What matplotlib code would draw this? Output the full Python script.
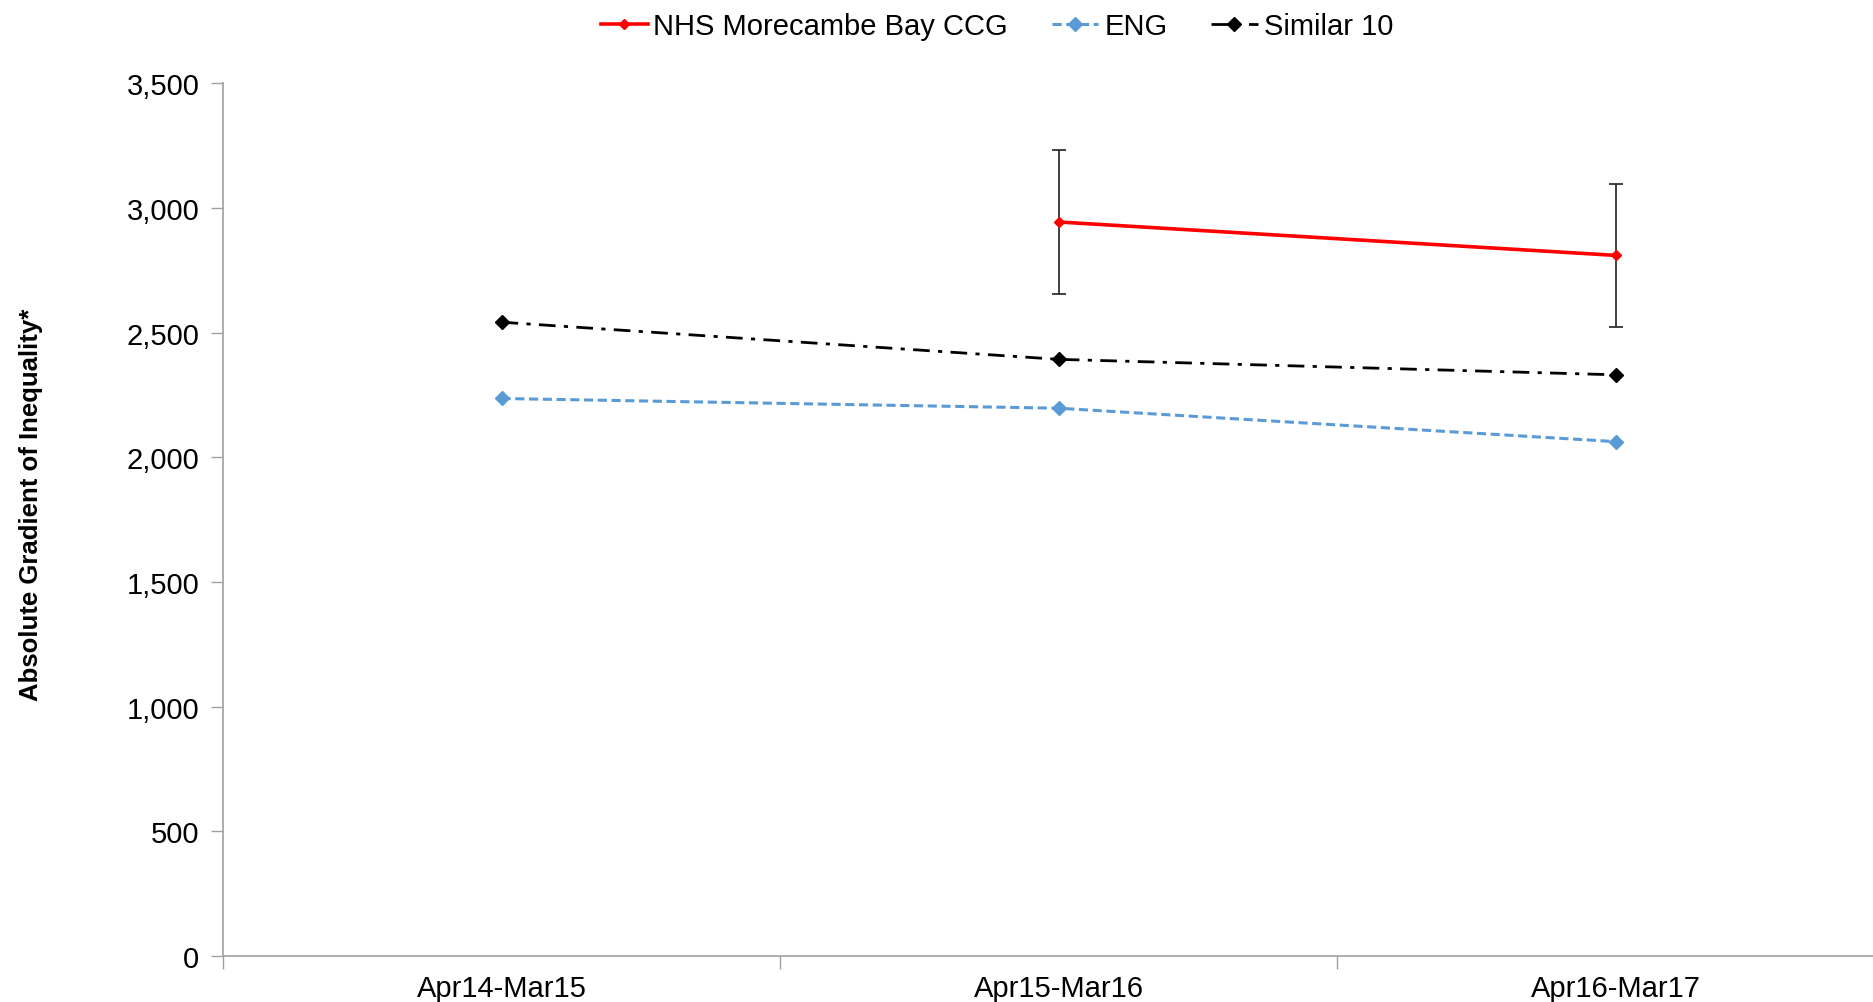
import matplotlib
matplotlib.use("Agg")
import matplotlib.pyplot as plt
import numpy as np

plt.rcParams['font.family'] = ['Liberation Sans', 'DejaVu Sans']

categories = ["Apr14-Mar15", "Apr15-Mar16", "Apr16-Mar17"]
nhs = [np.nan, 2944, 2810]
nhs_upper = [np.nan, 3231, 3097]
nhs_lower = [np.nan, 2657, 2523]
eng = [2236, 2197, 2063]
similar10 = [2542, 2393, 2331]
yticks = [0, 500, 1000, 1500, 2000, 2500, 3000, 3500]

fig = plt.figure(figsize=(18.74, 10.03), dpi=100)
ax = fig.add_axes([0.119, 0.0459, 0.8917, 0.870])

x = np.arange(len(categories))
nhs_a = np.array(nhs, dtype=float)
err = np.array([nhs_a - np.array(nhs_lower, dtype=float), np.array(nhs_upper, dtype=float) - nhs_a])

ax.errorbar(x, nhs_a, yerr=err, fmt='none', ecolor='#202020', elinewidth=1.2, capsize=5, capthick=1.2, zorder=2)
ax.plot(x, nhs_a, color='#ff0000', lw=2.6, marker='D', ms=5, label='NHS Morecambe Bay CCG', zorder=3)
ax.plot(x, eng, color='#5b9bd5', lw=2.2, ls=(0, (3, 1.5)), marker='D', ms=7, label='ENG', zorder=3)
ax.plot(x, similar10, color='black', lw=2, ls=(0, (6, 3, 1.5, 3)), marker='D', ms=7, label='Similar 10', zorder=3)

ax.set_xlim(-0.5, 2.5)
ax.set_ylim(0, 3500)
ax.set_yticks(yticks)
ax.set_yticklabels([f"{v:,}" for v in yticks])
ax.set_xticks(x)
ax.set_xticklabels(categories)
ax.set_xticks([-0.5, 0.5, 1.5, 2.5], minor=True)
ax.tick_params(axis='x', which='major', length=0, pad=13, labelsize=21)
ax.tick_params(axis='x', which='minor', length=9, color='#a0a0a0', width=1)
ax.tick_params(axis='y', length=9, color='#a0a0a0', width=1, labelsize=21, pad=8)

for s in ['top', 'right']:
    ax.spines[s].set_visible(False)
for s in ['left', 'bottom']:
    ax.spines[s].set_color('#a0a0a0')
    ax.spines[s].set_linewidth(1.2)

ax.set_ylabel("Absolute Gradient of Inequality*", fontsize=18.5, fontweight='bold')
ax.yaxis.set_label_coords(-0.108, 0.518)

fig.legend(loc='upper center', bbox_to_anchor=(0.532, 1.013), ncol=3, frameon=False,
           fontsize=21, handlelength=1.6, handletextpad=0.2, columnspacing=1.5)

fig.savefig("out.png", dpi=100)
